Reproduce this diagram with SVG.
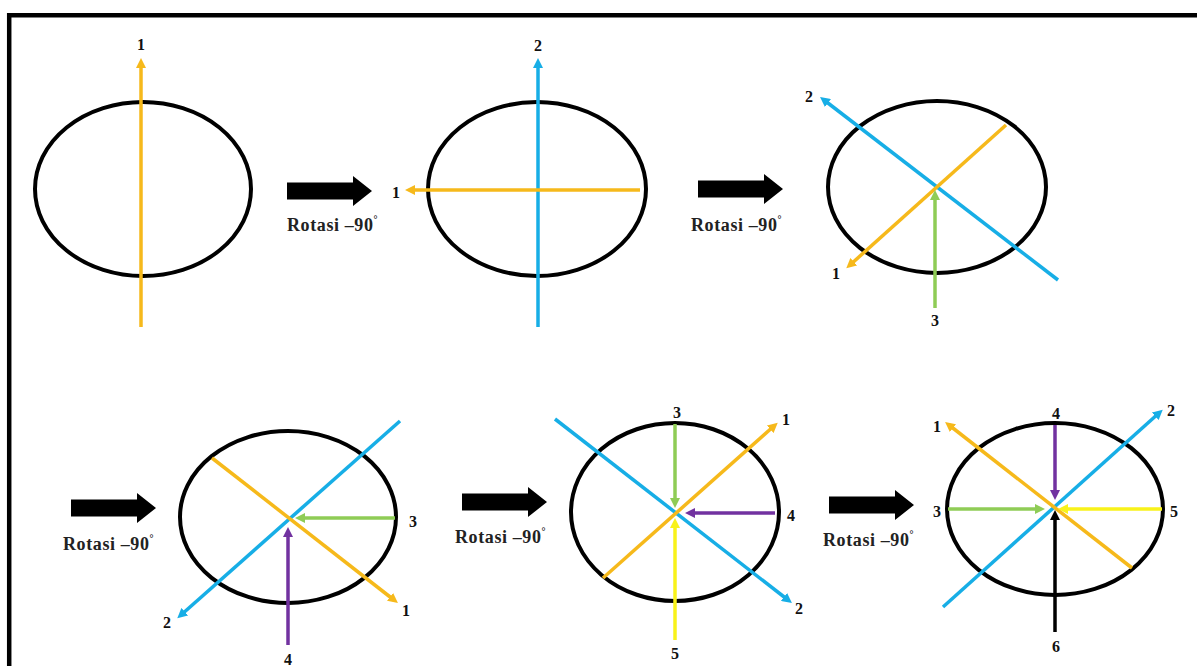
<svg xmlns="http://www.w3.org/2000/svg" width="1197" height="666" viewBox="0 0 1197 666">
<style>
.ell{fill:none;stroke:#000;stroke-width:4}
.ln{fill:none;stroke-width:3.5}
.or{stroke:#f6b91b}
.bl{stroke:#17aee6}
.gr{stroke:#8fcc56}
.pu{stroke:#7232a0}
.ye{stroke:#f8f21a}
.bk{stroke:#000}
.num{font-family:"Liberation Serif",serif;font-weight:bold;font-size:16px;fill:#111;text-anchor:middle}
.rot{font-family:"Liberation Serif",serif;font-weight:bold;font-size:18px;letter-spacing:0.6px;fill:#222}
.blk{fill:#000}
</style>
<defs>
<marker id="mOr" viewBox="0 0 10 10" refX="5" refY="5" markerWidth="10" markerHeight="10" markerUnits="userSpaceOnUse" orient="auto"><path d="M0,0 L10,5 L0,10 z" fill="#f6b91b"/></marker>
<marker id="mBl" viewBox="0 0 10 10" refX="5" refY="5" markerWidth="10" markerHeight="10" markerUnits="userSpaceOnUse" orient="auto"><path d="M0,0 L10,5 L0,10 z" fill="#17aee6"/></marker>
<marker id="mGr" viewBox="0 0 10 10" refX="5" refY="5" markerWidth="10" markerHeight="10" markerUnits="userSpaceOnUse" orient="auto"><path d="M0,0 L10,5 L0,10 z" fill="#8fcc56"/></marker>
<marker id="mPu" viewBox="0 0 10 10" refX="5" refY="5" markerWidth="10" markerHeight="10" markerUnits="userSpaceOnUse" orient="auto"><path d="M0,0 L10,5 L0,10 z" fill="#7232a0"/></marker>
<marker id="mYe" viewBox="0 0 10 10" refX="5" refY="5" markerWidth="10" markerHeight="10" markerUnits="userSpaceOnUse" orient="auto"><path d="M0,0 L10,5 L0,10 z" fill="#f8f21a"/></marker>
<marker id="mBk" viewBox="0 0 10 10" refX="5" refY="5" markerWidth="10" markerHeight="10" markerUnits="userSpaceOnUse" orient="auto"><path d="M0,0 L10,5 L0,10 z" fill="#000"/></marker>
<path id="blockArrow" d="M0,-8.5 H66 V-15 L85,0 L66,15 V8.5 H0 z"/>
</defs>
<rect width="1197" height="666" fill="#fff"/>
<path d="M9.2,666 V15.3 H1197" fill="none" stroke="#000" stroke-width="4.5"/>

<g id="panel1">
<ellipse class="ell" cx="143" cy="189" rx="108" ry="87"/>
<line class="ln or" x1="141" y1="327" x2="141" y2="63" marker-end="url(#mOr)"/>
<text class="num" x="141" y="50">1</text>
</g>

<g id="panel2">
<ellipse class="ell" cx="537" cy="189" rx="109" ry="87"/>
<line class="ln bl" x1="538" y1="327" x2="538" y2="63" marker-end="url(#mBl)"/>
<line class="ln or" x1="640" y1="190" x2="410" y2="190" marker-end="url(#mOr)"/>
<text class="num" x="538" y="51">2</text>
<text class="num" x="396" y="198">1</text>
</g>

<g id="panel3">
<ellipse class="ell" cx="937" cy="187" rx="109" ry="86"/>
<line class="ln bl" x1="1058" y1="280" x2="824" y2="100" marker-end="url(#mBl)"/>
<line class="ln or" x1="1006" y1="125" x2="850" y2="265" marker-end="url(#mOr)"/>
<line class="ln gr" x1="935" y1="308" x2="935" y2="195" marker-end="url(#mGr)"/>
<text class="num" x="809" y="102">2</text>
<text class="num" x="836" y="279">1</text>
<text class="num" x="935" y="326">3</text>
</g>

<g id="panel4">
<ellipse class="ell" cx="288" cy="517" rx="108" ry="86"/>
<line class="ln bl" x1="400" y1="421" x2="181" y2="615" marker-end="url(#mBl)"/>
<line class="ln or" x1="212" y1="458" x2="394" y2="600" marker-end="url(#mOr)"/>
<line class="ln gr" x1="395" y1="518" x2="300" y2="518" marker-end="url(#mGr)"/>
<line class="ln pu" x1="288" y1="645" x2="288" y2="532" marker-end="url(#mPu)"/>
<text class="num" x="167" y="628">2</text>
<text class="num" x="406" y="616">1</text>
<text class="num" x="413" y="527">3</text>
<text class="num" x="288" y="665">4</text>
</g>

<g id="panel5">
<ellipse class="ell" cx="675" cy="512" rx="104" ry="89"/>
<line class="ln bl" x1="555" y1="419" x2="788" y2="600" marker-end="url(#mBl)"/>
<line class="ln or" x1="603" y1="578" x2="774" y2="426" marker-end="url(#mOr)"/>
<line class="ln gr" x1="675" y1="424" x2="675" y2="503" marker-end="url(#mGr)"/>
<line class="ln pu" x1="775" y1="513" x2="690" y2="513" marker-end="url(#mPu)"/>
<line class="ln ye" x1="675" y1="640" x2="675" y2="523" marker-end="url(#mYe)"/>
<text class="num" x="799" y="614">2</text>
<text class="num" x="786" y="425">1</text>
<text class="num" x="677" y="418">3</text>
<text class="num" x="791" y="521">4</text>
<text class="num" x="675" y="659">5</text>
</g>

<g id="panel6">
<ellipse class="ell" cx="1055" cy="509" rx="108" ry="86"/>
<line class="ln bl" x1="943" y1="607" x2="1159" y2="413" marker-end="url(#mBl)"/>
<line class="ln or" x1="1132" y1="568" x2="949" y2="425" marker-end="url(#mOr)"/>
<line class="ln pu" x1="1055" y1="425" x2="1055" y2="495" marker-end="url(#mPu)"/>
<line class="ln gr" x1="948" y1="509" x2="1040" y2="509" marker-end="url(#mGr)"/>
<line class="ln ye" x1="1162" y1="509" x2="1063" y2="509" marker-end="url(#mYe)"/>
<line class="ln bk" x1="1055" y1="632" x2="1055" y2="515" marker-end="url(#mBk)"/>
<text class="num" x="1171" y="416">2</text>
<text class="num" x="937" y="432">1</text>
<text class="num" x="1056" y="419">4</text>
<text class="num" x="937" y="517">3</text>
<text class="num" x="1174" y="517">5</text>
<text class="num" x="1056" y="652">6</text>
</g>

<g id="connectors">
<g id="rot1"><use href="#blockArrow" class="blk" x="287" y="191"/><text class="rot" x="287" y="231">Rotasi –90<tspan dy="-8" font-size="10">°</tspan></text></g>
<g id="rot2"><use href="#blockArrow" class="blk" x="698" y="189"/><text class="rot" x="691" y="231">Rotasi –90<tspan dy="-8" font-size="10">°</tspan></text></g>
<g id="rot3"><use href="#blockArrow" class="blk" x="71" y="508"/><text class="rot" x="63" y="550">Rotasi –90<tspan dy="-8" font-size="10">°</tspan></text></g>
<g id="rot4"><use href="#blockArrow" class="blk" x="462" y="502"/><text class="rot" x="455" y="543">Rotasi –90<tspan dy="-8" font-size="10">°</tspan></text></g>
<g id="rot5"><use href="#blockArrow" class="blk" x="829" y="505"/><text class="rot" x="823" y="546">Rotasi –90<tspan dy="-8" font-size="10">°</tspan></text></g>
</g>
</svg>
